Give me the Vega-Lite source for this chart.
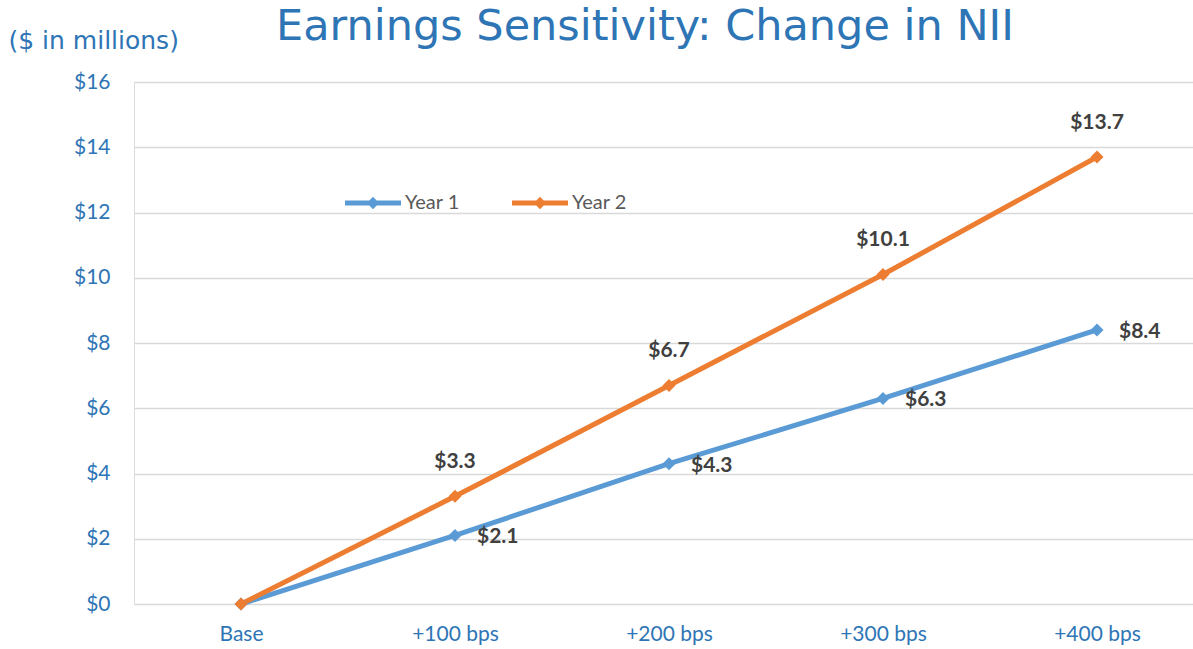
{
  "$schema": "https://vega.github.io/schema/vega-lite/v6.json",
  "autosize": {"type": "none"},
  "width": 1070,
  "height": 522,
  "padding": {"left": 134, "top": 82, "right": 0, "bottom": 45},
  "background": "white",
  "title": {
    "text": "Earnings Sensitivity: Change in NII",
    "font": "DejaVu Sans",
    "fontSize": 43,
    "fontWeight": "normal",
    "color": "#2E75B6",
    "anchor": "middle",
    "frame": "group",
    "dx": -24,
    "offset": -55,
    "baseline": "alphabetic"
  },
  "data": {
    "values": [
      {"scenario": "Base", "series": "Year 1", "value": 0},
      {"scenario": "+100 bps", "series": "Year 1", "value": 2.1},
      {"scenario": "+200 bps", "series": "Year 1", "value": 4.3},
      {"scenario": "+300 bps", "series": "Year 1", "value": 6.3},
      {"scenario": "+400 bps", "series": "Year 1", "value": 8.4},
      {"scenario": "Base", "series": "Year 2", "value": 0},
      {"scenario": "+100 bps", "series": "Year 2", "value": 3.3},
      {"scenario": "+200 bps", "series": "Year 2", "value": 6.7},
      {"scenario": "+300 bps", "series": "Year 2", "value": 10.1},
      {"scenario": "+400 bps", "series": "Year 2", "value": 13.7}
    ]
  },
  "encoding": {
    "x": {
      "field": "scenario",
      "type": "ordinal",
      "sort": ["Base", "+100 bps", "+200 bps", "+300 bps", "+400 bps"],
      "scale": {"type": "point", "padding": 0.5},
      "axis": {
        "title": null,
        "domain": false,
        "ticks": false,
        "grid": false,
        "labelAngle": 0,
        "labelFont": "Lato",
        "labelFontSize": 21,
        "labelColor": "#2E75B6",
        "labelPadding": 19
      }
    },
    "y": {
      "field": "value",
      "type": "quantitative",
      "scale": {"domain": [0, 16], "nice": false},
      "axis": {
        "values": [0, 2, 4, 6, 8, 10, 12, 14, 16],
        "labelExpr": "'$' + datum.value",
        "domain": false,
        "ticks": false,
        "grid": true,
        "gridColor": "#D9D9D9",
        "gridWidth": 1.5,
        "labelFont": "Lato",
        "labelFontSize": 21,
        "labelColor": "#2E75B6",
        "labelPadding": 24,
        "title": "($ in millions)",
        "titleFont": "DejaVu Sans",
        "titleFontSize": 25,
        "titleFontWeight": "normal",
        "titleColor": "#2E75B6",
        "titleAngle": 0,
        "titleAlign": "left",
        "titleBaseline": "middle",
        "titleX": -126,
        "titleY": -42
      }
    },
    "color": {
      "field": "series",
      "type": "nominal",
      "scale": {"domain": ["Year 1", "Year 2"], "range": ["#5B9BD5", "#ED7D31"]},
      "legend": {
        "title": null,
        "orient": "none",
        "legendX": 211,
        "legendY": 93,
        "direction": "horizontal",
        "symbolType": "M-1,-0.09H1V0.09H-1Z M0,-0.22L0.22,0L0,0.22L-0.22,0Z",
        "symbolSize": 3136,
        "symbolStrokeWidth": 0,
        "labelFont": "Lato",
        "labelFontSize": 20,
        "labelColor": "#595959",
        "labelOffset": 4,
        "columnPadding": 52
      }
    }
  },
  "layer": [
    {
      "mark": {"type": "line", "strokeWidth": 5}
    },
    {
      "mark": {"type": "point", "shape": "diamond", "filled": true, "size": 170, "opacity": 1}
    },
    {
      "transform": [{"filter": "datum.series == 'Year 2' && datum.value > 0"}],
      "mark": {"type": "text", "font": "Lato", "fontSize": 21, "fontWeight": "bold", "dy": -34, "baseline": "middle", "align": "center"},
      "encoding": {
        "text": {"field": "value", "type": "quantitative", "format": "$.1f"},
        "color": {"value": "#404040"}
      }
    },
    {
      "transform": [{"filter": "datum.series == 'Year 1' && datum.value > 0"}],
      "mark": {"type": "text", "font": "Lato", "fontSize": 21, "fontWeight": "bold", "dx": 22, "dy": 2, "baseline": "middle", "align": "left"},
      "encoding": {
        "text": {"field": "value", "type": "quantitative", "format": "$.1f"},
        "color": {"value": "#404040"}
      }
    }
  ]
}
